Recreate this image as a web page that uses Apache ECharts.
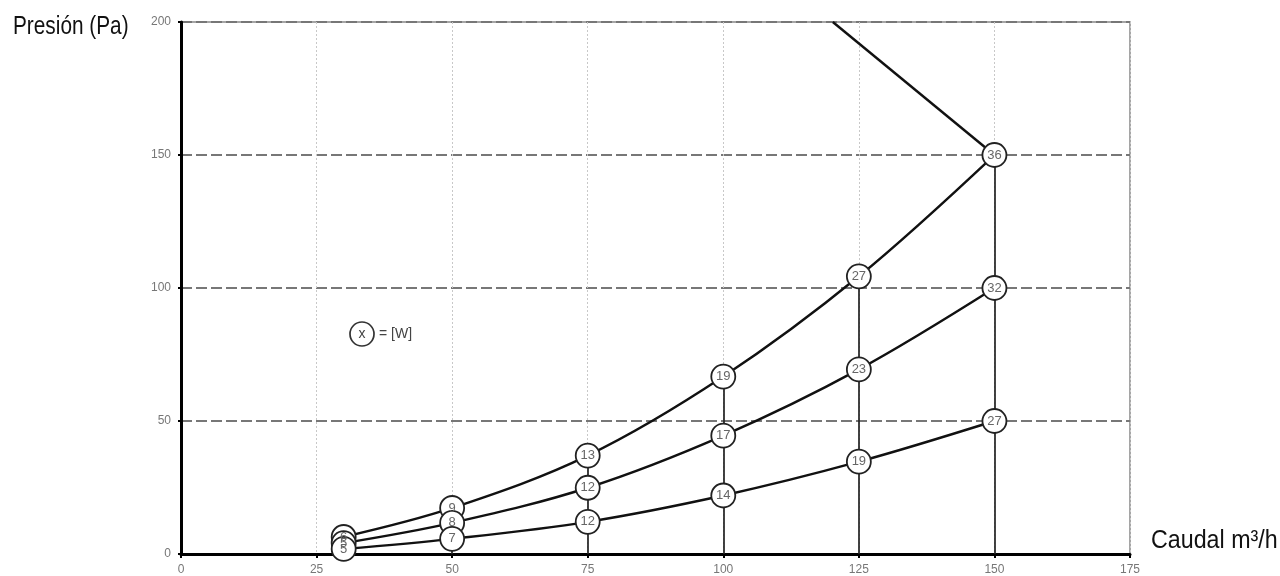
<!DOCTYPE html>
<html>
<head>
<meta charset="utf-8">
<script src="https://cdn.jsdelivr.net/npm/echarts@6/dist/echarts.min.js"></script>
<style>html,body{margin:0;padding:0;background:#fff}#c{width:1280px;height:576px}</style>
</head>
<body>
<div id="c"></div>
<script>
var flow = [30, 50, 75, 100, 125, 150];
var pLow = [1.9, 5.7, 12.1, 22, 34.7, 50];
var wLow = [5, 7, 12, 14, 19, 27];
var pMid = [4.1, 11.7, 24.9, 44.5, 69.4, 100];
var wMid = [5, 8, 12, 17, 23, 32];
var pTop = [6.4, 17.3, 37, 66.7, 104.4, 150];
var wTop = [6, 9, 13, 19, 27, 36];
var limitFlow = [150, 120.2];
var limitP = [150, 200];
var xTicks = [0, 25, 50, 75, 100, 125, 150, 175];
var yTicks = [0, 50, 100, 150, 200];

var FONT = '"Liberation Sans",Arial,sans-serif';

function pts(p, w) { return flow.map(function (x, i) { return [x, p[i], w[i]]; }); }

function curve(name, p, w) {
  return {
    name: name, type: 'line', smooth: 0.35, data: pts(p, w),
    symbol: 'circle', symbolSize: 24,
    lineStyle: { color: '#111', width: 2.4 },
    itemStyle: { color: '#fff', borderColor: '#222', borderWidth: 1.8 },
    label: { show: true, position: 'inside', color: '#666', fontSize: 13, fontFamily: FONT,
      formatter: function (d) { return d.value[2]; } },
    z: 5
  };
}

var verticals = flow.map(function (x, i) { return [{ coord: [x, 0] }, { coord: [x, pTop[i]] }]; });

var chart = echarts.init(document.getElementById('c'));
chart.setOption({
  animation: false,
  grid: { left: 181, right: 150, top: 22, bottom: 22, show: true, borderColor: '#888', borderWidth: 1.5, backgroundColor: 'transparent' },
  xAxis: {
    type: 'value', min: 0, max: 175, interval: 25,
    axisLine: { show: true, lineStyle: { color: '#000', width: 3 } },
    axisTick: { show: true, length: 4, lineStyle: { color: '#000', width: 2 } },
    axisLabel: { color: '#777', fontSize: 12, margin: 10, fontFamily: FONT,
      formatter: function (v) { return xTicks.indexOf(v) >= 0 ? v : ''; } },
    splitLine: { show: true, lineStyle: { color: '#c8c8c8', width: 1, type: [2, 2] } }
  },
  yAxis: {
    type: 'value', min: 0, max: 200, interval: 50,
    axisLine: { show: true, lineStyle: { color: '#000', width: 3 } },
    axisTick: { show: true, length: 3, lineStyle: { color: '#000', width: 2 } },
    axisLabel: { color: '#777', fontSize: 12, margin: 10, fontFamily: FONT,
      formatter: function (v) { return yTicks.indexOf(v) >= 0 ? v : ''; } },
    splitLine: { show: true, lineStyle: { color: '#777', width: 1.8, type: [11, 4] } }
  },
  series: [
    {
      name: 'limit', type: 'line', data: limitFlow.map(function (x, i) { return [x, limitP[i]]; }),
      symbol: 'none', lineStyle: { color: '#111', width: 2.4 }, z: 4,
      markLine: {
        silent: true, symbol: 'none', label: { show: false },
        lineStyle: { color: '#222', width: 1.7, type: 'solid' },
        data: verticals
      }
    },
    curve('top', pTop, wTop),
    curve('mid', pMid, wMid),
    curve('low', pLow, wLow)
  ],
  graphic: [
    { type: 'text', x: 13, y: 27, scaleX: 0.8, style: { text: 'Presión (Pa)', font: '26px ' + FONT, fill: '#111', verticalAlign: 'middle' } },
    { type: 'text', x: 1151, y: 541, scaleX: 0.93, style: { text: 'Caudal m³/h', font: '25px ' + FONT, fill: '#111', verticalAlign: 'middle' } },
    { type: 'circle', shape: { cx: 362, cy: 334, r: 12 }, style: { fill: '#fff', stroke: '#333', lineWidth: 1.7 } },
    { type: 'text', x: 362, y: 334, style: { text: 'x', font: '14px ' + FONT, fill: '#444', align: 'center', verticalAlign: 'middle' } },
    { type: 'text', x: 379, y: 334, style: { text: '= [W]', font: '14px ' + FONT, fill: '#444', verticalAlign: 'middle' } }
  ]
});
</script>
</body>
</html>
